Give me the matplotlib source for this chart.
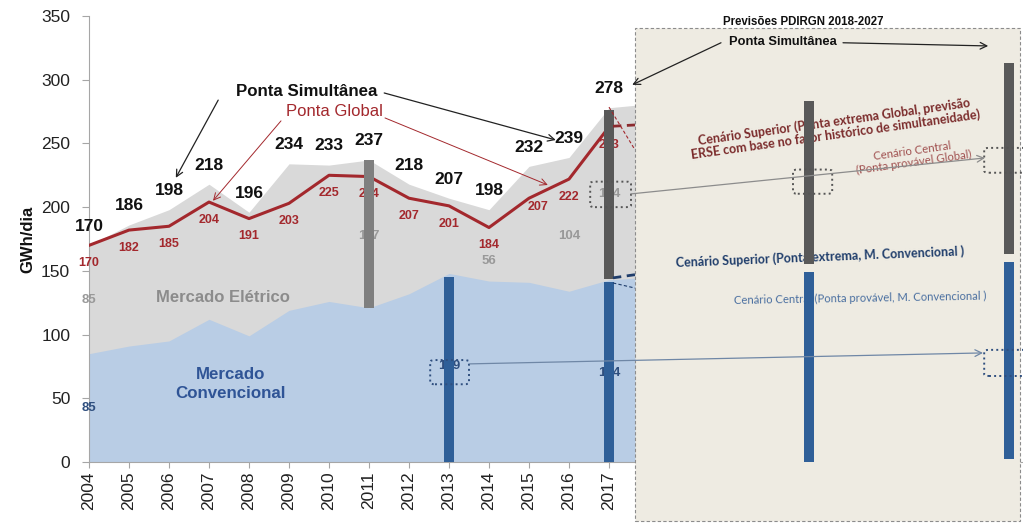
import matplotlib
matplotlib.use('Agg')
import matplotlib.pyplot as plt
from matplotlib.patches import Rectangle, FancyBboxPatch

plt.rcParams['font.family'] = ['Liberation Sans', 'DejaVu Sans']
CAL = ['Lato', 'Open Sans', 'DejaVu Sans']

# --- dados -------------------------------------------------------------
anos = list(range(2004, 2019))          # 2018 fica escondido pela caixa
ponta_simultanea = [170, 186, 198, 218, 196, 234, 233, 237, 218, 207, 198, 232, 239, 278, 281]
mercado_convencional = [85, 91, 95, 112, 99, 119, 126, 121, 132, 148, 142, 141, 134, 143, 145]
anos_hist = list(range(2004, 2018))
ponta_global = [170, 182, 185, 204, 191, 203, 225, 224, 207, 201, 184, 207, 222, 263]

# valores do mercado elétrico / convencional destacados
eletrico_anos = [2004, 2011, 2014, 2016, 2017]
eletrico_val = [85, 117, 56, 104, 134]
conv_anos = [2004, 2013, 2017]
conv_val = [85, 149, 144]

# barras (ano, base, topo)
barras_anos = [2011, 2013, 2017, 2017, 2022, 2022, 2027, 2027]
barras_base = [121, 0, 144, 0, 155, 0, 163, 2]
barras_topo = [237, 145, 276, 141, 283, 149, 313, 157]
barras_cor = ['#7f7f7f', '#2f5f98', '#595959', '#2f5f98',
              '#595959', '#2f5f98', '#595959', '#2f5f98']

fig = plt.figure(figsize=(10.23, 5.25), dpi=100)
ax = fig.add_axes([89/1023, 63/525, 934/1023, 446/525])
ax.set_xlim(2004, 2027.35)
ax.set_ylim(0, 350)

# áreas
ax.fill_between(anos, 0, ponta_simultanea, color='#d9d9d9', lw=0, zorder=1)
ax.fill_between(anos, 0, mercado_convencional, color='#b9cde5', lw=0, zorder=2)
ax.plot(anos_hist, ponta_global, color='#a3282d', lw=2.2, zorder=3)

# rótulos
for a, v in zip(anos_hist, ponta_simultanea):
    ax.text(a, v + 15, str(v), ha='center', va='center', fontsize=12.5,
            fontweight='bold', color='#111111', zorder=4)
for a, v in zip(anos_hist, ponta_global):
    dx, dy = (0.22, -7) if a == 2015 else (0, -14)
    ax.text(a + dx, v + dy, str(v), ha='center', va='center', fontsize=9,
            fontweight='bold', color='#a3282d', zorder=4)
pos_eletrico = [127, 177, 158, 177, 210]
for a, v, y in zip(eletrico_anos, eletrico_val, pos_eletrico):
    ax.text(a, y, str(v), ha='center', va='center', fontsize=9.5,
            fontweight='bold', color='#999999', zorder=4)
pos_conv = [42, 75, 70]
for a, v, y in zip(conv_anos, conv_val, pos_conv):
    ax.text(a, y, str(v), ha='center', va='center', fontsize=9.5,
            fontweight='bold', color='#2f4f7f', zorder=4)

ax.text(2007.35, 129, 'Mercado Elétrico', ha='center', va='center', fontsize=12,
        fontweight='bold', color='#8c8c8c', zorder=4)
ax.text(2007.55, 61, 'Mercado\nConvencional', ha='center', va='center', fontsize=12.2,
        fontweight='bold', color='#2f5496', linespacing=1.3, zorder=4)

# caixa das previsões
ax.add_patch(Rectangle((2017.65, -46), 9.63, 386.7, facecolor='#eeebe2',
                       edgecolor='#8c8c8c', ls=(0, (3, 2)), lw=0.8,
                       clip_on=False, zorder=6))

# barras
for a, b, t, c in zip(barras_anos, barras_base, barras_topo, barras_cor):
    z = 5 if a <= 2017 else 8
    ax.bar(a, t - b, bottom=b, width=0.25, color=c, lw=0, zorder=z)

# linhas tracejadas a sair de 2017
ax.plot([2017.1, 2017.65], [263.5, 264.5], color='#8b2a2e', lw=2, ls=(0, (3, 2)), zorder=5.5)
ax.plot([2017.0, 2017.62], [278.5, 246.5], color='#a3282d', lw=0.8, ls=(0, (3, 2)), zorder=5.5)
ax.plot([2017.1, 2017.65], [144.5, 147], color='#1f3d6b', lw=2, ls=(0, (3, 2)), zorder=5.5)
ax.plot([2017.1, 2017.65], [140.5, 136.5], color='#1f3d6b', lw=0.8, ls=(0, (3, 2)), zorder=5.5)

# caixas pontilhadas
def caixa(x0, y0, w, h, cor, z):
    ax.add_patch(FancyBboxPatch((x0, y0), w, h, boxstyle='round,pad=0,rounding_size=0.12',
                                mutation_aspect=12, facecolor='none', edgecolor=cor,
                                ls=':', lw=1.4, clip_on=False, zorder=z))

caixa(2016.53, 200, 1.02, 20, '#555555', 5.6)
caixa(2021.6, 210.5, 0.98, 19, '#555555', 9)
caixa(2026.38, 227, 1.2, 19.5, '#555555', 9)
caixa(2012.53, 61, 0.97, 19, '#2f4f7f', 5.6)
caixa(2026.38, 67.5, 1.2, 20.5, '#2f4f7f', 9)

seta = dict(arrowstyle='->', mutation_scale=12, shrinkA=0, shrinkB=0)
ax.annotate('', xy=(2026.4, 238.6), xytext=(2017.55, 210.4),
            arrowprops=dict(seta, color='#8c8c8c', lw=0.9), zorder=9)
ax.annotate('', xy=(2026.35, 85.6), xytext=(2013.52, 77),
            arrowprops=dict(seta, color='#6f87a6', lw=0.9), zorder=9)

# anotações Ponta Simultânea / Ponta Global
ax.text(2009.43, 290.5, 'Ponta Simultânea', ha='center', va='center', fontsize=12.2,
        fontweight='bold', color='#111111', zorder=10)
ax.annotate('', xy=(2006.17, 223), xytext=(2007.23, 284),
            arrowprops=dict(seta, color='#222222', lw=0.9), zorder=10)
ax.annotate('', xy=(2015.67, 252.7), xytext=(2011.38, 289.6),
            arrowprops=dict(seta, color='#222222', lw=0.9), zorder=10)
ax.text(2010.13, 274.7, 'Ponta Global', ha='center', va='center', fontsize=12,
        color='#a3282d', zorder=10)
ax.annotate('', xy=(2007.1, 205), xytext=(2008.8, 267.7),
            arrowprops=dict(seta, color='#a3282d', lw=0.7), zorder=10)
ax.annotate('', xy=(2015.47, 217.4), xytext=(2011.4, 270),
            arrowprops=dict(seta, color='#a3282d', lw=0.7), zorder=10)

# textos da caixa
ax.text(2021.85, 345.4, 'Previsões PDIRGN 2018-2027', ha='center', va='center',
        fontsize=8.3, fontweight='bold', color='#111111', zorder=10)
ax.text(2021.35, 329.7, 'Ponta Simultânea', ha='center', va='center', fontsize=9.3,
        fontweight='bold', color='#111111', zorder=10)
ax.annotate('', xy=(2017.58, 296), xytext=(2019.8, 329),
            arrowprops=dict(seta, color='#222222', lw=0.9), zorder=10)
ax.annotate('', xy=(2026.48, 326.5), xytext=(2022.85, 329),
            arrowprops=dict(seta, color='#222222', lw=0.9), zorder=10)

ax.text(2022.65, 262, 'Cenário Superior (Ponta extrema Global, previsão\n'
        'ERSE com base no fator histórico de simultaneidade)', ha='center', va='center',
        fontsize=9, fontweight='bold', family=CAL, color='#7b2b2b', rotation=8,
        rotation_mode='anchor', linespacing=1.05, zorder=7)
ax.text(2024.6, 239.5, 'Cenário Central\n(Ponta provável Global)', ha='center', va='center',
        fontsize=8.2, family=CAL, color='#a0504f', rotation=8, rotation_mode='anchor',
        linespacing=1.1, zorder=7)
ax.text(2022.27, 161, 'Cenário Superior (Ponta extrema, M. Convencional )', ha='center',
        va='center', fontsize=9, fontweight='bold', family=CAL, color='#1f3d6b',
        rotation=2.3, rotation_mode='anchor', zorder=7)
ax.text(2023.27, 128.5, 'Cenário Central (Ponta provável, M. Convencional )', ha='center',
        va='center', fontsize=8.1, family=CAL, color='#4a6fa0', rotation=1,
        rotation_mode='anchor', zorder=7)

# eixos
for s in ['top', 'right']:
    ax.spines[s].set_visible(False)
ax.spines['left'].set_color('#a6a6a6')
ax.spines['bottom'].set_color('#a6a6a6')
ax.set_xticks(anos_hist)
ax.set_xticklabels([str(a) for a in anos_hist], rotation=90, fontsize=12.5, color='#222222')
ax.set_yticks(range(0, 351, 50))
ax.tick_params(axis='y', labelsize=12.5, labelcolor='#222222', color='#a6a6a6', length=5, pad=8.5)
ax.tick_params(axis='x', color='#a6a6a6', length=4, pad=3)
ax.set_ylabel('GWh/dia', fontsize=12, fontweight='bold', color='#111111')
ax.yaxis.set_label_coords(-0.057, 0.5)

fig.savefig('out.png', dpi=100)
